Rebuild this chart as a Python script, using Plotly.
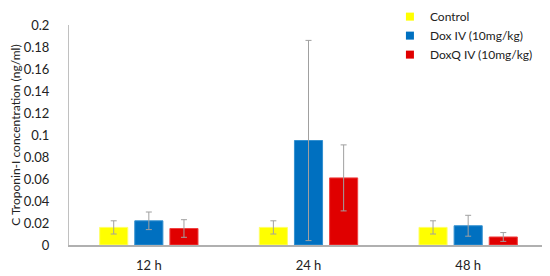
import plotly.graph_objects as go

times = ["12 h", "24 h", "48 h"]
groups = ["Control", "Dox IV (10mg/kg)", "DoxQ IV (10mg/kg)"]
control = [0.016, 0.016, 0.016]
control_err = [0.006, 0.006, 0.006]
dox = [0.022, 0.095, 0.0175]
dox_err = [0.008, 0.091, 0.0095]
doxq = [0.015, 0.061, 0.0073]
doxq_err = [0.008, 0.030, 0.004]
y_ticks = [0, 0.02, 0.04, 0.06, 0.08, 0.1, 0.12, 0.14, 0.16, 0.18, 0.2]

colors = ["#ffff00", "#0070c0", "#e00000"]
outlines = ["#ffff66", "#3390d0", "#f04040"]

fig = go.Figure()
for name, vals, errs, c, oc in zip(groups, [control, dox, doxq],
                                   [control_err, dox_err, doxq_err],
                                   colors, outlines):
    fig.add_trace(
        go.Bar(
            x=times,
            y=vals,
            name=name,
            showlegend=False,
            marker=dict(color=c, line=dict(color=oc, width=1)),
            error_y=dict(type="data", array=errs, color="#a0a0a0",
                         thickness=1, width=3),
        )
    )
# small square legend keys, like the original
for name, c in zip(groups, colors):
    fig.add_trace(
        go.Scatter(
            x=[None], y=[None], mode="markers", name=name,
            marker=dict(symbol="square", size=8, color=c),
        )
    )

# page body has an 8px margin, so the figure is 8px smaller and shifted
fig.update_layout(
    width=542,
    height=268,
    margin=dict(l=61, r=2, t=17, b=31, autoexpand=False),
    paper_bgcolor="white",
    plot_bgcolor="white",
    font=dict(family="Lato, Open Sans, sans-serif", size=13, color="#222222"),
    barmode="group",
    bargap=0.34,
    bargroupgap=0.2,
    showlegend=True,
    legend=dict(
        x=0.670, xanchor="left", y=1.104, yanchor="top",
        font=dict(size=12), bgcolor="rgba(0,0,0,0)",
        itemwidth=30, tracegroupgap=0,
    ),
)
fig.update_xaxes(
    showline=True, linecolor="#b0b0b0", linewidth=2, automargin=False,
    showgrid=False, ticks="", ticklabelstandoff=7,
)
fig.update_yaxes(
    range=[0, 0.2], tickvals=y_ticks, automargin=False,
    ticktext=[("%g" % v) for v in y_ticks],
    showline=True, linecolor="#c0c0c0", linewidth=1,
    showgrid=False, zeroline=False, ticks="", ticklabelstandoff=16,
    title=dict(text="C Troponin-I concentration (ng/ml)", font=dict(size=12),
               standoff=7),
)

fig.write_html("out.html")
